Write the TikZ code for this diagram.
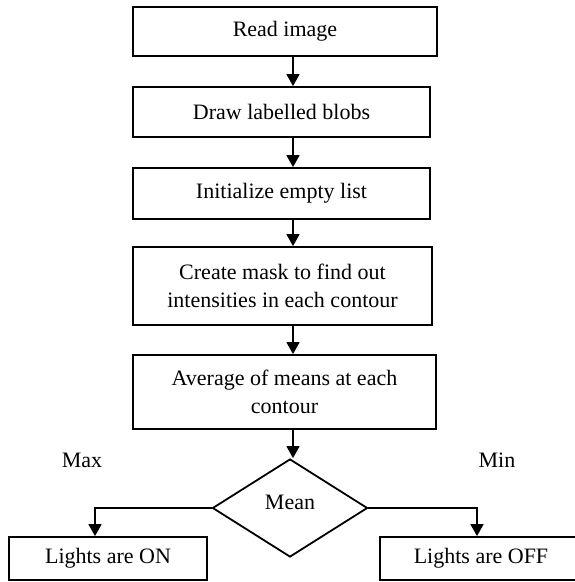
\documentclass[tikz,border=0pt]{standalone}
\usepackage{fontspec}
\setmainfont{Liberation Serif}
\usetikzlibrary{shapes.geometric,arrows.meta}
\begin{document}
\begin{tikzpicture}[x=1pt,y=-1pt,
  font=\fontsize{22}{28}\selectfont,
  box/.style={draw, line width=1.8pt, inner sep=0pt, align=center},
  flow/.style={line width=1.6pt, -{Triangle[length=12pt,width=13pt]}},
  decision/.style={draw, diamond, line width=1.8pt, inner sep=0pt,
    minimum width=155pt, minimum height=98pt},
  tag/.style={inner sep=0pt}
]
\useasboundingbox (0,0) rectangle (575,582);

% main column of process steps
\node[box, minimum width=304pt, minimum height=49pt] (b1) at (285,31.5) {Read image};
\node[box, minimum width=297pt, minimum height=50pt] (b2) at (281.5,112) {Draw labelled blobs};
\node[box, minimum width=297pt, minimum height=51pt] (b3) at (281.5,193.5) {Initialize empty list};
\node[box, minimum width=299pt, minimum height=78pt] (b4) at (282.5,286)
  {Create mask to find out\\intensities in each contour};
\node[box, minimum width=303pt, minimum height=74pt] (b5) at (284.5,392)
  {Average of means at each\\contour};

% decision and outcomes
\node[decision] (d) at (290,508) {};
\node[tag] (dm) at (290,502) {Mean};
\node[box, minimum width=198pt, minimum height=43pt] (lb) at (108,558.5) {Lights are ON};
\node[box, minimum width=202pt, minimum height=43pt] (rb) at (481,558.5) {Lights are OFF};
\node[tag] (mx) at (82,460) {Max};
\node[tag] (mn) at (497,460) {Min};

% connector columns
\coordinate (ax) at (293,0);
\coordinate (lx) at (95,0);
\coordinate (rx) at (477,0);

\draw[flow] (b1.south -| ax) -- (b2.north -| ax);
\draw[flow] (b2.south -| ax) -- (b3.north -| ax);
\draw[flow] (b3.south -| ax) -- (b4.north -| ax);
\draw[flow] (b4.south -| ax) -- (b5.north -| ax);
\draw[flow] (b5.south -| ax) -- (d.north -| ax);
\draw[flow] (d.west) -| (lb.north -| lx);
\draw[flow] (d.east) -| (rb.north -| rx);
\end{tikzpicture}
\end{document}
